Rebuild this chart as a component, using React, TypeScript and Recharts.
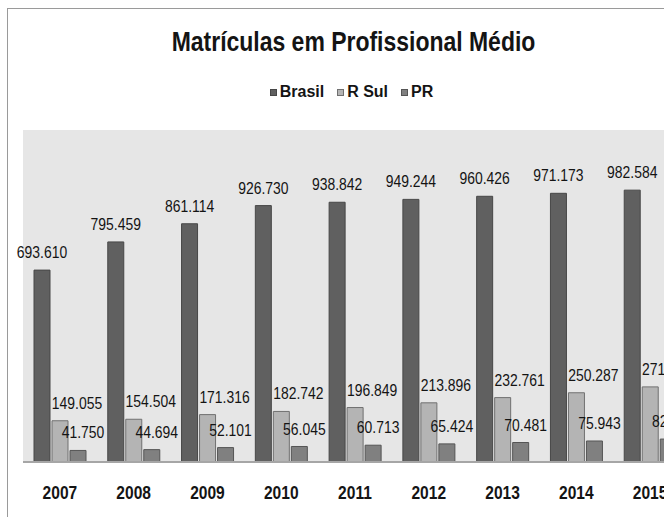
import React from 'react';
import { BarChart, Bar, XAxis, YAxis, CartesianGrid, LabelList } from 'recharts';

const years = ['2007', '2008', '2009', '2010', '2011', '2012', '2013', '2014', '2015'];
const brasil = [693610, 795459, 861114, 926730, 938842, 949244, 960426, 971173, 982584];
const rSul = [149055, 154504, 171316, 182742, 196849, 213896, 232761, 250287, 271500];
const pr = [41750, 44694, 52101, 56045, 60713, 65424, 70481, 75943, 82900];

const series = [
  { key: 'brasil', name: 'Brasil', fill: '#606060', stroke: '#474747' },
  { key: 'rSul', name: 'R Sul', fill: '#b4b4b4', stroke: '#707070' },
  { key: 'pr', name: 'PR', fill: '#808080', stroke: '#555555' },
];

const data = years.map((year, i) => ({
  year,
  brasil: brasil[i],
  rSul: rSul[i],
  pr: pr[i],
}));

// no Arial Narrow here, so squeeze Liberation Sans horizontally
const sans = "'Liberation Sans', Arial, sans-serif";
const squeeze = 0.82;
const textColor = '#141414';

const fmt = (n: number) => String(n).replace(/\B(?=(\d{3})+(?!\d))/g, '.');

// shift: horizontal offset of the label centre from the bar centre
const makeLabel = (shift: number) => (props: any) => {
  const { x, y, width, value } = props;
  const cx = Number(x) + Number(width) / 2 + shift;
  const cy = Number(y) - 18;
  return (
    <text
      transform={`translate(${cx},${cy}) scale(${squeeze},1)`}
      x={0}
      y={0}
      textAnchor="middle"
      dominantBaseline="central"
      fontFamily={sans}
      fontSize={17}
      fill={textColor}
    >
      {fmt(Number(value))}
    </text>
  );
};

const shifts: Record<string, number> = { brasil: 0, rSul: 17, pr: 5 };

const YearTick = (props: any) => {
  const { x, y, payload } = props;
  return (
    <text
      transform={`translate(${x},${Number(y) + 22}) scale(${squeeze},1)`}
      x={0}
      y={0}
      textAnchor="middle"
      dominantBaseline="central"
      fontFamily={sans}
      fontWeight="bold"
      fontSize={19}
      fill={textColor}
    >
      {payload.value}
    </text>
  );
};

export default function App() {
  return (
    <div
      style={{
        position: 'fixed',
        top: 8,
        left: 7,
        width: 657,
        height: 509,
        overflow: 'hidden',
        borderLeft: '1px solid #9a9a9a',
        borderTop: '1px solid #9a9a9a',
        background: '#fff',
      }}
    >
      <div
        style={{
          position: 'absolute',
          top: 17,
          left: 0,
          width: 691,
          textAlign: 'center',
          fontFamily: sans,
          fontWeight: 'bold',
          fontSize: 28,
          lineHeight: '32px',
          color: textColor,
          whiteSpace: 'nowrap',
          transform: `scaleX(${squeeze})`,
          transformOrigin: '345.5px 0',
        }}
      >
        Matrículas em Profissional Médio
      </div>
      <div
        style={{
          position: 'absolute',
          top: 75,
          left: 0,
          width: 700,
          display: 'flex',
          justifyContent: 'center',
          fontFamily: sans,
          fontWeight: 'bold',
          fontSize: 16,
          lineHeight: '16px',
          color: textColor,
        }}
      >
        {series.map((s) => (
          <div key={s.key} style={{ display: 'flex', alignItems: 'center', marginRight: 13 }}>
            <span
              style={{
                display: 'inline-block',
                width: 5,
                height: 5,
                background: s.fill,
                border: `1px solid ${s.stroke}`,
                marginRight: 3,
                marginTop: 1,
              }}
            />
            <span>{s.name}</span>
          </div>
        ))}
      </div>
      <BarChart
        width={700}
        height={500}
        data={data}
        margin={{ top: 121, right: 21, bottom: 17, left: 15 }}
        barSize={16}
        barGap={2}
      >
        <CartesianGrid horizontal={false} vertical={false} fill="#e6e6e6" stroke="none" />
        <XAxis
          dataKey="year"
          height={30}
          tickLine={false}
          axisLine={{ stroke: '#a6a6a6', strokeWidth: 2 }}
          tick={<YearTick />}
          interval={0}
        />
        <YAxis hide domain={[0, 1200000]} />
        {series.map((s) => (
          <Bar
            key={s.key}
            dataKey={s.key}
            name={s.name}
            fill={s.fill}
            stroke={s.stroke}
            strokeWidth={1}
            isAnimationActive={false}
          >
            <LabelList dataKey={s.key} content={makeLabel(shifts[s.key])} />
          </Bar>
        ))}
      </BarChart>
    </div>
  );
}
